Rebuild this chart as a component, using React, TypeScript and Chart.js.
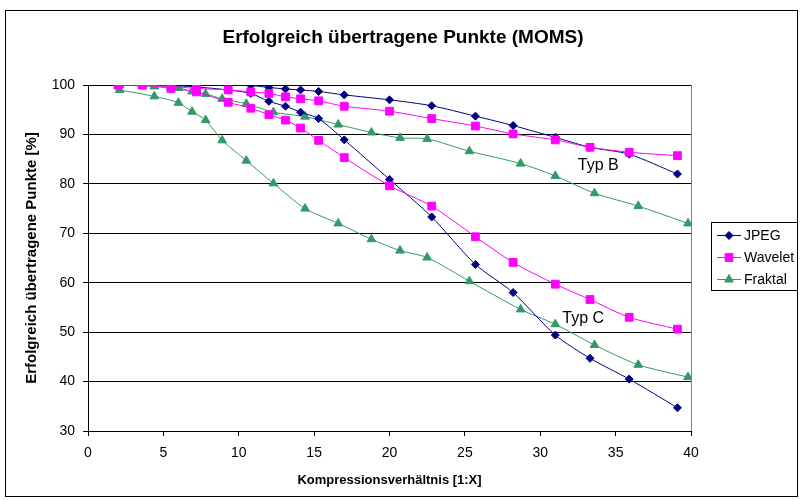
import React, { useEffect, useRef } from 'react';
import { Chart, registerables } from 'chart.js';

Chart.register(...registerables);

const FONT = '"Liberation Sans", Arial, Helvetica, sans-serif';

const chartTitle = 'Erfolgreich übertragene Punkte (MOMS)';
const xAxisTitle = 'Kompressionsverhältnis [1:X]';
const yAxisTitle = 'Erfolgreich übertragene Punkte [%]';
const seriesNames = ['JPEG', 'Wavelet', 'Fraktal'];
const seriesColors = ['#000080', '#FF00FF', '#339966'];
const seriesMarkers = ['rectRot', 'rect', 'triangle'];
const markerRadius = [4, 5.5, 5];

// x values (compression ratio 1:X)
const xJpegWavelet = [2.0, 3.6, 5.5, 7.2, 9.3, 10.8, 12.0, 13.1, 14.1, 15.3, 17.0, 20.0, 22.8, 25.7, 28.2, 31.0, 33.3, 35.9, 39.1];
const xFraktal = [2.1, 4.4, 6.0, 6.9, 7.8, 8.9, 10.5, 12.3, 14.4, 16.6, 18.8, 20.7, 22.5, 25.3, 28.7, 31.0, 33.6, 36.5, 39.8];

// Typ B
const jpegB = [100, 100, 100, 100, 100, 99.9, 99.5, 99.2, 99.0, 98.7, 98.0, 97.0, 95.8, 93.7, 91.8, 89.4, 87.4, 86.0, 82.0];
const waveletB = [100, 100, 99.7, 99.3, 99.0, 98.6, 98.3, 97.6, 97.2, 96.8, 95.7, 94.7, 93.2, 91.7, 90.1, 88.9, 87.4, 86.4, 85.7];
const fraktalB = [100, 99.7, 99.4, 98.7, 98.2, 97.2, 96.2, 94.5, 93.6, 92.0, 90.4, 89.3, 89.1, 86.6, 84.1, 81.6, 78.1, 75.5, 72.0];

// Typ C
const jpegC = [100, 100, 99.9, 99.6, 99.0, 98.3, 96.7, 95.7, 94.5, 93.2, 88.9, 80.9, 73.3, 63.7, 58.0, 49.4, 44.7, 40.5, 34.7];
const waveletC = [100, 100, 99.3, 98.6, 96.5, 95.3, 94.0, 92.9, 91.3, 88.8, 85.3, 79.6, 75.5, 69.3, 64.1, 59.7, 56.6, 53.0, 50.6];
const fraktalC = [99.0, 97.7, 96.4, 94.6, 92.9, 88.8, 84.7, 80.1, 75.0, 72.0, 68.8, 66.5, 65.1, 60.3, 54.6, 51.6, 47.4, 43.4, 40.9];

// group annotations (data coordinates)
const groupLabels = ['Typ B', 'Typ C'];
const groupLabelX = [33.85, 32.85];
const groupLabelY = [83.7, 52.7];

const xTicks = [0, 5, 10, 15, 20, 25, 30, 35, 40];
const yTicks = [30, 40, 50, 60, 70, 80, 90, 100];

function pts(xs: number[], ys: number[]) {
  return ys.map((y, i) => ({ x: xs[i], y }));
}

function ds(label: string, idx: number, xs: number[], ys: number[]) {
  return {
    label,
    data: pts(xs, ys),
    borderColor: seriesColors[idx],
    backgroundColor: seriesColors[idx],
    pointBackgroundColor: seriesColors[idx],
    pointBorderColor: seriesColors[idx],
    pointStyle: seriesMarkers[idx],
    pointRadius: markerRadius[idx],
    pointBorderWidth: 1,
    borderWidth: 1,
    showLine: true,
    tension: 0.25,
    fill: false,
  };
}

function drawMarker(ctx: CanvasRenderingContext2D, style: string, r: number, x: number, y: number) {
  ctx.beginPath();
  if (style === 'rectRot') {
    ctx.moveTo(x - r, y);
    ctx.lineTo(x, y - r);
    ctx.lineTo(x + r, y);
    ctx.lineTo(x, y + r);
    ctx.closePath();
  } else if (style === 'rect') {
    const s = Math.SQRT1_2 * r;
    ctx.rect(x - s, y - s, 2 * s, 2 * s);
  } else {
    const a = -Math.PI / 2;
    for (let k = 0; k < 3; k++) {
      const ang = a + (k * 2 * Math.PI) / 3;
      const px = x + Math.cos(ang) * r;
      const py = y + Math.sin(ang) * r;
      if (k === 0) ctx.moveTo(px, py);
      else ctx.lineTo(px, py);
    }
    ctx.closePath();
  }
  ctx.fill();
  ctx.stroke();
}

const overlay = {
  id: 'overlay',
  afterDraw(chart: any) {
    const { ctx, chartArea: ca } = chart;
    const xs = chart.scales.x;
    const ys = chart.scales.y;
    ctx.save();
    // outer frame
    ctx.strokeStyle = '#000';
    ctx.lineWidth = 1;
    ctx.strokeRect(5.5, 10.5, 792, 486);
    // plot area right border
    ctx.strokeStyle = '#808080';
    ctx.beginPath();
    ctx.moveTo(Math.round(ca.right) + 0.5, ca.top);
    ctx.lineTo(Math.round(ca.right) + 0.5, ca.bottom);
    ctx.stroke();
    // title
    ctx.fillStyle = '#000';
    ctx.font = `bold 19px ${FONT}`;
    ctx.textAlign = 'center';
    ctx.textBaseline = 'middle';
    ctx.fillText(chartTitle, 403, 38);
    // group labels
    ctx.font = `16px ${FONT}`;
    groupLabels.forEach((t, i) => {
      ctx.fillText(t, xs.getPixelForValue(groupLabelX[i]), ys.getPixelForValue(groupLabelY[i]));
    });
    // legend
    const lx = 711.5, ly = 222.5, lw = 86, lh = 68;
    ctx.fillStyle = '#fff';
    ctx.fillRect(lx, ly, lw, lh);
    ctx.strokeStyle = '#000';
    ctx.strokeRect(lx, ly, lw, lh);
    ctx.font = `14px ${FONT}`;
    ctx.textAlign = 'left';
    seriesNames.forEach((name, i) => {
      const y = 235 + i * 22;
      ctx.strokeStyle = seriesColors[i];
      ctx.lineWidth = 1;
      ctx.beginPath();
      ctx.moveTo(717, y + 0.5);
      ctx.lineTo(741, y + 0.5);
      ctx.stroke();
      ctx.fillStyle = seriesColors[i];
      drawMarker(ctx, seriesMarkers[i], markerRadius[i], 729, y + 0.5);
      ctx.fillStyle = '#000';
      ctx.fillText(name, 744, y + 1);
    });
    ctx.restore();
  },
};

export default function App() {
  const ref = useRef<HTMLCanvasElement | null>(null);
  useEffect(() => {
    if (!ref.current) return;
    Chart.defaults.font.family = FONT;
    Chart.defaults.color = '#000';
    const chart = new Chart(ref.current, {
      type: 'scatter',
      data: {
        datasets: [
          ds('Wavelet', 1, xJpegWavelet, waveletB),
          ds('Wavelet', 1, xJpegWavelet, waveletC),
          ds('JPEG', 0, xJpegWavelet, jpegB),
          ds('JPEG', 0, xJpegWavelet, jpegC),
          ds('Fraktal', 2, xFraktal, fraktalB),
          ds('Fraktal', 2, xFraktal, fraktalC),
        ] as any,
      },
      options: {
        animation: false,
        responsive: false,
        events: [],
        layout: { padding: { left: 8, right: 114, top: 85, bottom: 9 } },
        plugins: {
          legend: { display: false },
          title: { display: false },
          tooltip: { enabled: false },
        },
        scales: {
          x: {
            type: 'linear',
            min: 0,
            max: 40,
            afterBuildTicks: (s: any) => { s.ticks = xTicks.map((v) => ({ value: v })); },
            afterFit: (s: any) => { s.height = 60; },
            ticks: { font: { size: 14 }, color: '#000', padding: 9, maxRotation: 0 },
            grid: { display: true, drawOnChartArea: false, drawTicks: true, tickLength: 5, color: '#000' },
            border: { display: true, color: '#000', width: 1 },
            title: { display: true, text: xAxisTitle, font: { size: 13, weight: 'bold' }, color: '#000', padding: { top: 0, bottom: 3 } },
          },
          y: {
            type: 'linear',
            min: 30,
            max: 100,
            afterBuildTicks: (s: any) => { s.ticks = yTicks.map((v) => ({ value: v })); },
            afterFit: (s: any) => { s.width = 80; },
            ticks: { font: { size: 14 }, color: '#000', padding: 8 },
            grid: { display: true, color: '#000', lineWidth: 1, tickLength: 5 },
            border: { display: true, color: '#000', width: 1 },
            title: { display: true, text: yAxisTitle, font: { size: 15, weight: 'bold' }, color: '#000', padding: { top: 15, bottom: 0 } },
          },
        },
      } as any,
      plugins: [overlay],
    });
    return () => chart.destroy();
  }, []);
  return (
    <div style={{ position: 'absolute', left: 0, top: 0, width: 805, height: 500, background: '#fff' }}>
      <canvas ref={ref} width={805} height={500} style={{ width: 805, height: 500, display: 'block' }} />
    </div>
  );
}
